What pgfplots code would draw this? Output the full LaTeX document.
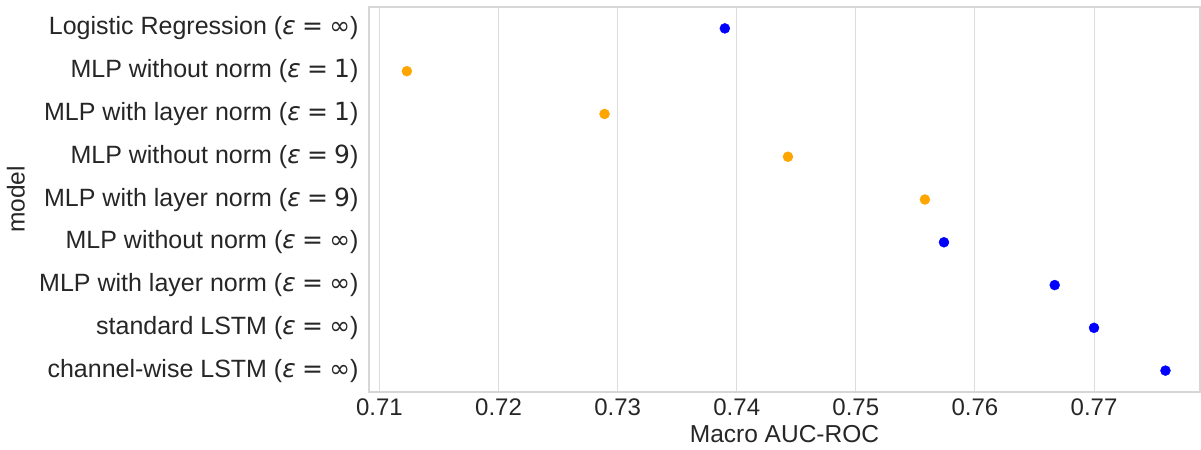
\documentclass[border=0pt]{standalone}
\usepackage{fontspec}
\setmainfont{Liberation Sans}
\newfontfamily\djv{DejaVu Sans}
\usepackage{pgfplots}
\pgfplotsset{compat=1.18}
\definecolor{txt}{HTML}{262626}
\definecolor{gridc}{HTML}{DCDCDC}
\definecolor{spine}{HTML}{D6D6D6}
\definecolor{myblue}{HTML}{0000FF}
\definecolor{myorange}{HTML}{FFA500}
\newcommand{\eps}[1]{({\djv\itshape ε}\hspace{0.25em}{\djv =}\hspace{0.25em}{\djv #1})}
\begin{document}
\begin{tikzpicture}
\path[use as bounding box] (-369bp,-58bp) rectangle (832bp,392bp);
\begin{axis}[
  scale only axis,
  width=831bp, height=385bp,
  xmin=0.70912, xmax=0.7789,
  ymin=-0.5, ymax=8.5,
  y dir=reverse,
  xtick={0.71,0.72,0.73,0.74,0.75,0.76,0.77},
  xticklabels={0.71,0.72,0.73,0.74,0.75,0.76,0.77},
  ytick={0,1,2,3,4,5,6,7,8},
  yticklabels={
    Logistic Regression \eps{∞},
    MLP without norm \eps{1},
    MLP with layer norm \eps{1},
    MLP without norm \eps{9},
    MLP with layer norm \eps{9},
    MLP without norm \eps{∞},
    MLP with layer norm \eps{∞},
    standard LSTM \eps{∞},
    channel-wise LSTM \eps{∞}},
  major tick length=0pt,
  xmajorgrids,
  grid style={gridc, line width=1bp},
  axis line style={spine, line width=1.3bp},
  yticklabel style={font=\fontsize{25bp}{29bp}\selectfont, text=txt, xshift=-7bp},
  xticklabel style={font=\fontsize{24bp}{28bp}\selectfont, text=txt, yshift=-3bp},
  xlabel={Macro AUC-ROC},
  ylabel={model},
  every axis x label/.style={at={(rel axis cs:0.5,0)}, anchor=center, yshift=-42bp, font=\fontsize{24.5bp}{28bp}\selectfont, text=txt},
  every axis y label/.style={at={(rel axis cs:0,0.5)}, xshift=-353bp, rotate=90, anchor=center, font=\fontsize{24.5bp}{28bp}\selectfont, text=txt},
  clip=false,
]
\addplot[only marks, mark=*, mark size=5bp, myblue, mark options={draw=myblue, fill=myblue}] coordinates {
  (0.7390,0) (0.7574,5) (0.7667,6) (0.7700,7) (0.7760,8)
};
\addplot[only marks, mark=*, mark size=5bp, myorange, mark options={draw=myorange, fill=myorange}] coordinates {
  (0.7123,1) (0.7289,2) (0.7443,3) (0.7558,4)
};
\end{axis}
\end{tikzpicture}
\end{document}
